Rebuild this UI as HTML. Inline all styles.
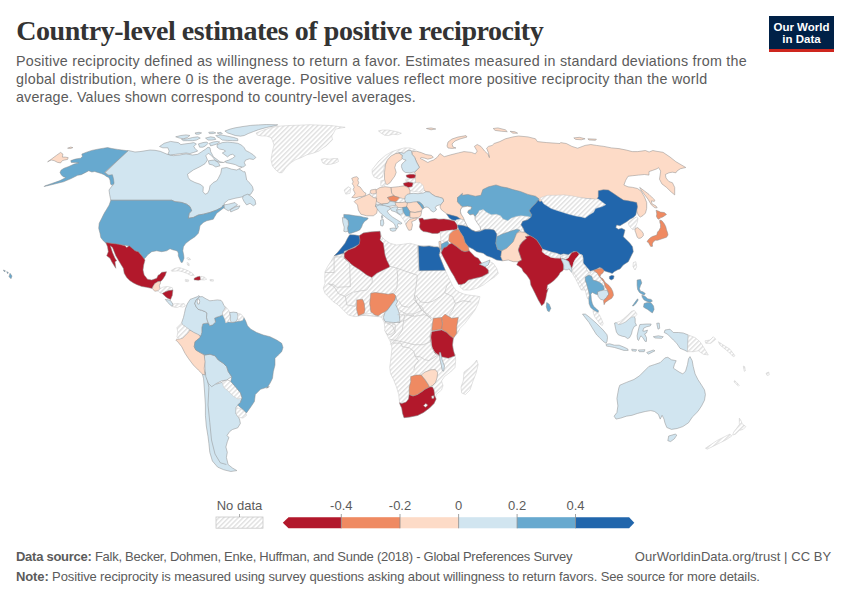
<!DOCTYPE html>
<html><head><meta charset="utf-8"><title>Country-level estimates of positive reciprocity</title>
<style>
html,body{margin:0;padding:0;background:#fff;}
body{width:850px;height:600px;position:relative;overflow:hidden;font-family:"Liberation Sans",Arial,sans-serif;}
.t{position:absolute;white-space:nowrap;}
#title{left:16.2px;top:17.45px;font-family:"Liberation Serif","Times New Roman",serif;font-size:28px;line-height:28px;font-weight:bold;color:#333;letter-spacing:-0.443px;}
.sub{left:16px;font-size:14.3px;line-height:14.3px;color:#5b5b5b;}
#s1{top:54.2px;letter-spacing:0.238px;}
#s2{top:72.1px;letter-spacing:0.271px;}
#s3{top:90.0px;letter-spacing:0.153px;}
#logo{position:absolute;left:769px;top:16px;width:65px;height:36px;background:#002147;}
#logo .bar{position:absolute;left:0;bottom:0;width:100%;height:2.8px;background:#ce261e;}
#logo .txt{position:absolute;left:0;top:4.5px;width:100%;text-align:center;color:#fff;font-weight:bold;font-size:11.5px;line-height:12px;letter-spacing:0px;}
#map{position:absolute;left:0;top:0;}
.ft{font-size:13px;line-height:13px;color:#5b5b5b;}
#src{left:16px;top:549.6px;letter-spacing:-0.268px;}
#note{left:16px;top:569.7px;letter-spacing:-0.123px;}
#lic{left:634.8px;top:549.6px;letter-spacing:0.058px;}
b{font-weight:bold;}
</style></head><body>
<svg id="map" width="850" height="600" viewBox="0 0 850 600">
<defs>
<pattern id="hatch" patternUnits="userSpaceOnUse" width="3.4" height="3.4" patternTransform="rotate(45)">
<rect width="3.4" height="3.4" fill="#ffffff"/>
<rect width="1.4" height="3.4" fill="#e0e0e0"/>
</pattern>
</defs>
<g id="land">
<polygon points="256.0,133.0 263.5,130.0 271.0,127.7 278.5,126.2 289.0,125.5 299.5,125.2 310.0,124.7 320.5,125.2 331.0,125.5 340.0,126.7 345.2,127.3 340.0,128.2 335.5,129.2 334.0,132.2 331.7,136.0 332.5,139.7 329.5,142.7 326.5,145.7 322.0,148.7 319.0,151.0 313.0,153.2 307.0,154.7 301.0,157.7 295.0,160.0 290.5,163.0 286.0,167.5 282.2,172.7 279.2,172.7 275.5,169.7 272.5,166.0 271.0,160.0 271.7,155.5 272.5,151.0 274.0,145.0 272.5,140.5 271.0,137.5 266.5,136.0 262.0,136.0 257.5,135.2" fill="url(#hatch)" stroke="#c8c8c8" stroke-width="0.5" stroke-linejoin="round"/>
<polygon points="321.2,159.2 325.0,158.5 329.5,159.2 334.0,158.5 337.7,158.5 338.5,161.5 335.5,163.0 331.0,164.2 326.5,164.5 322.7,163.0" fill="url(#hatch)" stroke="#c8c8c8" stroke-width="0.5" stroke-linejoin="round"/>
<polygon points="128.0,150.4 105.0,173.0 107.0,174.0 110.0,176.0 112.4,180.0 113.6,184.4 111.2,187.0 109.0,190.0 109.6,194.4 110.4,198.4 110.8,200.2 171.6,200.2 175.0,201.6 181.6,202.4 186.6,204.2 190.0,206.6 191.6,210.8 189.2,213.2 188.2,218.2 193.4,217.4 198.2,215.0 203.4,214.2 210.0,212.4 216.6,210.0 221.6,207.4 223.6,205.0 228.3,204.2 235.0,202.5 237.5,205.0 233.3,207.5 228.3,210.8 224.2,208.3 224.2,203.3 228.3,200.0 235.0,198.3 243.3,196.7 250.8,194.2 253.3,190.0 252.5,186.7 250.0,183.3 246.7,180.0 245.8,175.0 245.0,171.7 243.3,171.7 238.3,168.3 233.3,166.7 226.7,163.3 220.0,161.7 213.3,156.7 212.5,155.0 210.7,151.7 210.0,147.8 208.0,147.2 205.5,149.2 201.7,151.7 197.7,154.3 192.5,155.0 186.0,153.8 179.7,155.0 173.2,155.7 167.3,154.3 160.2,151.3 155.0,150.3 150.0,150.0 140.0,151.6 135.0,152.0" fill="#d1e5f0" stroke="#8c8c8c" stroke-width="0.5" stroke-linejoin="round"/>
<polygon points="243.3,195.8 247.5,194.2 251.7,196.7 255.0,200.0 255.8,204.2 253.3,205.8 250.0,203.3 246.7,205.0 244.2,201.7 242.5,198.3" fill="#d1e5f0" stroke="#8c8c8c" stroke-width="0.5" stroke-linejoin="round"/>
<polygon points="230.0,210.0 235.0,207.0 240.0,205.8 238.3,208.7 233.3,210.8 230.8,212.0" fill="#d1e5f0" stroke="#8c8c8c" stroke-width="0.5" stroke-linejoin="round"/>
<polygon points="187.5,174.2 193.3,170.0 200.0,166.7 205.0,163.7 207.5,160.0 205.8,155.8 208.3,153.3 211.7,155.8 215.8,160.8 220.0,162.5 223.3,162.5 228.3,160.8 233.3,161.7 238.3,165.0 241.7,167.5 236.7,170.0 231.7,169.2 226.7,167.5 221.7,168.3 220.8,173.3 218.3,178.3 216.7,180.8 213.3,182.5 210.0,185.8 209.2,190.0 207.5,193.3 205.0,194.2 203.0,191.7 203.3,186.7 200.0,184.2 195.0,182.5 190.0,180.0 188.3,177.5" fill="#ffffff" stroke="#8c8c8c" stroke-width="0.5" stroke-linejoin="round"/>
<polygon points="208.3,160.8 214.2,160.0 218.3,162.5 220.0,165.8 215.8,167.0 212.5,165.0 209.2,164.2" fill="#d1e5f0" stroke="#8c8c8c" stroke-width="0.5" stroke-linejoin="round"/>
<polygon points="159.5,146.5 164.1,143.3 170.5,141.4 178.3,142.6 180.9,144.6 184.8,143.9 189.9,143.3 193.8,142.6 196.4,143.9 193.8,146.5 195.1,148.5 197.7,151.1 193.8,152.4 189.9,153.6 186.1,153.0 180.9,153.6 175.7,154.3 170.5,154.9 167.9,154.3 169.2,151.1 167.9,147.8 162.8,147.8" fill="#d1e5f0" stroke="#8c8c8c" stroke-width="0.5" stroke-linejoin="round"/>
<polygon points="198.4,143.9 202.9,142.6 206.8,142.0 208.1,143.3 205.5,145.9 202.9,147.2 199.6,147.2" fill="#d1e5f0" stroke="#8c8c8c" stroke-width="0.5" stroke-linejoin="round"/>
<polygon points="209.4,143.3 213.2,142.0 217.1,141.4 219.7,142.0 217.1,143.9 213.2,145.2 210.6,145.9" fill="#d1e5f0" stroke="#8c8c8c" stroke-width="0.5" stroke-linejoin="round"/>
<polygon points="175.7,136.8 180.9,135.5 186.1,134.9 189.9,135.5 187.4,137.5 183.5,138.8 179.6,138.1" fill="#d1e5f0" stroke="#8c8c8c" stroke-width="0.5" stroke-linejoin="round"/>
<polygon points="181.5,139.4 187.4,138.8 192.5,137.5 197.7,136.8 200.3,138.1 196.4,140.1 192.5,140.7 187.4,140.7 183.5,140.7" fill="#d1e5f0" stroke="#8c8c8c" stroke-width="0.5" stroke-linejoin="round"/>
<polygon points="195.1,132.9 199.0,132.3 201.6,132.9 199.0,134.2 195.8,134.2" fill="#d1e5f0" stroke="#8c8c8c" stroke-width="0.5" stroke-linejoin="round"/>
<polygon points="205.5,138.1 210.6,136.8 214.5,137.5 215.8,139.4 211.9,140.1 208.1,140.1" fill="#d1e5f0" stroke="#8c8c8c" stroke-width="0.5" stroke-linejoin="round"/>
<polygon points="208.7,132.3 213.2,131.9 215.8,132.9 213.2,133.6 209.4,133.6" fill="#d1e5f0" stroke="#8c8c8c" stroke-width="0.5" stroke-linejoin="round"/>
<polygon points="217.1,132.9 221.0,132.3 222.3,133.6 219.7,134.2" fill="#d1e5f0" stroke="#8c8c8c" stroke-width="0.5" stroke-linejoin="round"/>
<polygon points="215.8,135.5 221.0,134.9 227.5,136.2 233.9,137.5 237.8,138.8 237.8,140.7 232.6,140.7 227.5,140.4 222.3,140.1 219.7,138.1 217.1,136.8" fill="#d1e5f0" stroke="#8c8c8c" stroke-width="0.5" stroke-linejoin="round"/>
<polygon points="224.9,131.0 230.1,129.1 235.2,127.8 243.0,126.5 250.8,125.4 258.5,124.9 266.3,124.5 277.7,124.8 275.4,125.7 266.3,127.5 258.5,129.7 253.4,131.6 248.2,133.6 244.3,135.5 240.4,136.2 235.2,135.5 231.4,134.2 227.5,132.9" fill="#d1e5f0" stroke="#8c8c8c" stroke-width="0.5" stroke-linejoin="round"/>
<polygon points="217.1,144.6 222.3,142.6 227.5,142.0 232.6,142.6 237.8,143.3 241.7,145.2 244.3,147.8 245.6,150.4 249.5,152.4 253.4,154.9 255.9,157.5 253.4,159.5 249.5,158.8 245.6,160.1 244.3,162.7 245.6,165.3 243.0,167.2 239.1,166.6 235.2,164.6 230.1,163.4 226.2,162.7 224.9,161.4 228.8,160.1 232.6,158.2 235.2,156.2 232.6,154.3 230.1,154.9 227.5,156.9 224.9,154.9 222.3,153.0 225.5,151.1 223.6,149.8 219.7,149.1 217.1,147.2" fill="#d1e5f0" stroke="#8c8c8c" stroke-width="0.5" stroke-linejoin="round"/>
<polygon points="128.0,150.8 104.5,172.4 105.9,173.5 108.2,175.3 112.4,174.7 113.5,178.8 114.1,183.5 111.8,185.3 110.6,184.1 110.0,180.0 108.8,177.6 106.5,176.5 104.1,174.7 101.2,173.5 97.6,172.4 94.7,171.5 91.8,172.0 88.8,170.8 84.7,172.9 81.2,174.7 77.6,175.3 74.1,177.1 70.6,178.8 63.5,181.8 56.5,183.5 49.4,185.3 44.1,186.5 44.7,185.9 51.8,183.5 60.0,180.6 65.9,177.6 62.9,176.5 61.2,174.7 60.0,172.4 61.2,170.0 64.1,168.2 68.8,166.5 74.1,164.1 78.8,162.9 75.3,162.6 71.2,162.4 70.8,160.6 75.3,159.1 80.6,158.2 82.4,156.5 81.8,154.1 85.9,152.4 91.8,150.4 97.6,149.2 103.5,148.2 107.6,147.6 111.8,148.5 117.6,149.4" fill="#67a9cf" stroke="#8c8c8c" stroke-width="0.5" stroke-linejoin="round"/>
<polygon points="47.6,161.8 51.8,158.8 56.5,155.3 60.6,152.4 62.9,154.1 62.4,157.1 65.3,157.1 68.2,157.6 67.6,159.4 64.7,160.0 62.4,160.6 60.6,162.9 57.6,162.4 54.1,160.6 51.2,160.0" fill="#fddbc7" stroke="#8c8c8c" stroke-width="0.5" stroke-linejoin="round"/>
<polygon points="67.6,148.2 70.6,147.1 72.9,147.6 70.6,148.5" fill="#fddbc7" stroke="#8c8c8c" stroke-width="0.5" stroke-linejoin="round"/>
<polygon points="110.8,200.3 171.7,200.3 175.0,201.7 181.7,202.5 186.7,204.2 190.0,206.7 191.7,210.8 189.2,213.3 188.3,218.3 193.3,217.5 198.3,215.0 203.3,214.2 210.0,212.5 216.7,210.0 221.7,207.5 223.3,205.0 224.2,207.5 220.0,210.8 216.7,213.3 214.2,217.5 213.3,219.2 210.0,220.0 206.7,220.8 203.3,222.5 200.0,225.8 199.2,230.0 198.3,233.3 195.0,236.7 190.0,240.0 185.8,243.3 183.7,246.3 183.3,247.5 182.8,250.8 183.7,255.0 184.0,258.3 182.5,262.2 181.2,262.5 179.7,259.2 178.3,255.8 178.3,253.3 177.5,251.2 175.0,250.3 173.3,250.0 170.0,248.7 166.7,250.8 161.7,251.7 156.7,250.8 151.7,251.7 147.5,255.0 145.0,258.3 143.3,259.2 140.0,253.3 136.7,250.8 134.2,251.7 130.8,248.3 128.3,245.8 123.3,245.0 116.7,244.2 111.7,243.3 105.8,243.0 103.3,240.8 100.8,237.5 100.0,233.3 98.7,228.3 99.2,223.3 101.7,218.3 104.2,213.3 106.7,209.2 109.2,205.0" fill="#67a9cf" stroke="#8c8c8c" stroke-width="0.5" stroke-linejoin="round"/>
<polygon points="105.8,242.5 110.8,243.3 118.3,244.2 125.0,245.8 126.7,247.5 129.2,245.8 133.3,249.2 135.0,250.8 138.3,251.7 141.7,255.8 145.0,260.0 143.7,265.0 143.0,270.0 144.2,275.0 147.5,279.2 151.7,280.0 156.7,278.3 158.3,275.0 159.3,274.7 161.8,272.3 166.5,271.7 165.3,275.3 163.5,278.2 161.8,280.5 160.0,281.8 157.7,281.8 156.5,283.0 154.7,284.2 153.0,286.5 152.3,288.5 150.0,288.0 146.5,287.3 141.8,286.5 137.0,284.7 133.5,283.0 130.0,280.7 126.7,277.5 124.2,273.3 123.3,268.3 120.8,264.2 118.3,260.0 115.8,255.8 114.2,251.7 112.5,247.5 110.3,245.8 112.5,252.5 115.0,258.3 116.7,260.8 115.0,261.7 115.8,268.3 114.2,265.8 111.7,261.7 110.0,258.3 106.7,255.8 108.3,251.7 107.5,246.7" fill="#b2182b" stroke="#8c8c8c" stroke-width="0.5" stroke-linejoin="round"/>
<polygon points="152.3,288.5 154.7,291.2 158.2,290.8 160.0,288.8 159.4,285.3 160.6,283.0 160.0,281.2 157.7,281.8 154.7,283.5 153.0,286.5" fill="#fddbc7" stroke="#8c8c8c" stroke-width="0.5" stroke-linejoin="round"/>
<polygon points="158.2,290.8 160.0,288.8 162.9,287.1 167.6,286.5 172.3,287.7 172.9,290.0 168.8,290.6 165.3,291.8 162.9,293.5 160.0,292.9" fill="url(#hatch)" stroke="#c8c8c8" stroke-width="0.5" stroke-linejoin="round"/>
<polygon points="162.3,293.5 165.3,291.8 168.8,290.6 172.9,290.0 172.3,295.3 170.6,299.4 167.6,298.2 165.3,296.5" fill="#b2182b" stroke="#8c8c8c" stroke-width="0.5" stroke-linejoin="round"/>
<polygon points="165.3,299.4 168.8,300.0 170.6,300.6 172.9,304.1 172.3,306.5 170.0,304.7 167.6,302.3" fill="#d1e5f0" stroke="#8c8c8c" stroke-width="0.5" stroke-linejoin="round"/>
<polygon points="172.9,304.1 177.1,303.5 180.6,304.1 184.1,303.5 185.3,305.9 182.9,307.1 179.4,306.5 177.1,307.6 173.5,307.1" fill="url(#hatch)" stroke="#c8c8c8" stroke-width="0.5" stroke-linejoin="round"/>
<polygon points="185.3,279.4 188.8,280.0 188.2,281.8 185.3,281.2" fill="url(#hatch)" stroke="#c8c8c8" stroke-width="0.5" stroke-linejoin="round"/>
<polygon points="210.0,279.4 213.5,279.8 213.3,281.2 210.2,280.9" fill="url(#hatch)" stroke="#c8c8c8" stroke-width="0.5" stroke-linejoin="round"/>
<polygon points="171.2,270.4 175.0,268.3 179.2,267.5 183.3,268.8 188.3,270.8 192.5,273.3 194.2,275.4 190.8,275.4 186.7,273.3 182.5,271.7 178.3,270.8 174.2,271.2 171.7,271.2" fill="url(#hatch)" stroke="#c8c8c8" stroke-width="0.5" stroke-linejoin="round"/>
<polygon points="186.7,258.0 188.5,257.5 190.8,259.5 188.5,260.0" fill="url(#hatch)" stroke="#c8c8c8" stroke-width="0.5" stroke-linejoin="round"/>
<polygon points="187.0,262.5 189.0,263.5 189.2,265.8 187.5,265.0" fill="url(#hatch)" stroke="#c8c8c8" stroke-width="0.5" stroke-linejoin="round"/>
<polygon points="194.2,278.3 197.5,276.7 200.0,276.3 200.8,279.7 198.3,280.3 195.8,280.0 194.2,280.0" fill="#b2182b" stroke="#8c8c8c" stroke-width="0.5" stroke-linejoin="round"/>
<polygon points="200.8,276.3 204.2,277.0 206.7,279.2 204.2,280.0 200.8,279.7" fill="url(#hatch)" stroke="#c8c8c8" stroke-width="0.5" stroke-linejoin="round"/>
<polygon points="350.0,235.8 353.3,235.0 359.2,235.8 363.3,233.0 370.0,232.0 380.0,231.3 381.7,236.7 385.0,240.0 390.0,243.3 396.7,245.0 403.3,244.2 410.0,243.3 416.7,245.0 419.2,245.8 430.0,245.8 438.3,246.7 440.8,248.0 445.0,249.2 446.7,248.3 440.2,257.8 442.0,262.5 443.8,267.0 445.3,270.3 446.7,273.5 448.5,277.2 450.3,280.8 453.0,286.3 455.8,290.0 460.0,292.5 464.2,294.2 468.3,295.0 475.0,295.8 480.0,296.7 478.3,303.3 475.0,310.0 470.0,316.7 465.0,323.3 460.0,328.3 457.5,333.3 453.3,338.3 452.5,345.0 453.3,350.0 454.2,356.7 455.0,354.0 455.7,360.0 455.0,367.5 450.5,372.0 444.5,376.5 441.5,381.0 443.0,385.5 441.5,390.0 436.2,394.5 435.5,399.0 434.0,403.5 429.5,408.0 423.5,412.5 417.5,415.5 410.0,417.0 404.0,417.7 403.2,414.0 401.7,408.0 399.5,402.0 398.7,394.5 396.5,387.0 393.5,379.5 390.5,373.5 389.7,367.5 390.5,361.5 391.2,355.5 392.0,348.0 390.5,342.0 387.5,336.0 384.5,330.0 385.0,330.0 384.2,322.5 381.7,317.5 376.7,315.8 370.0,313.3 360.0,315.0 378.3,316.7 373.3,315.8 366.7,315.0 360.0,315.8 355.0,316.7 348.3,315.0 343.3,310.0 338.3,305.0 333.3,301.7 328.3,296.7 325.0,293.3 323.3,288.3 325.0,283.3 324.7,278.3 325.0,271.7 327.5,266.7 330.8,261.7 334.2,255.8 338.3,252.5 342.5,246.7 346.7,241.7" fill="url(#hatch)" stroke="#c8c8c8" stroke-width="0.5" stroke-linejoin="round"/>
<polygon points="464.0,372.0 470.0,367.5 474.5,363.0 476.7,360.0 478.2,364.5 476.0,373.5 473.0,381.0 470.0,390.0 465.5,394.5 461.7,393.0 461.0,387.0 463.2,381.0" fill="url(#hatch)" stroke="#c8c8c8" stroke-width="0.5" stroke-linejoin="round"/>
<polygon points="349.7,234.7 355.0,235.0 359.2,235.8 360.3,240.8 359.2,244.2 353.3,247.5 348.3,249.7 344.2,251.3 343.7,253.3 334.2,255.8 337.5,252.5 341.7,247.5 345.0,243.3 347.5,238.3" fill="#2166ac" stroke="#8c8c8c" stroke-width="0.5" stroke-linejoin="round"/>
<polygon points="359.2,235.8 363.3,233.0 370.0,232.0 380.0,231.3 380.8,236.7 380.0,240.0 383.3,243.3 384.2,249.2 385.0,255.0 386.7,260.0 390.0,266.7 383.3,270.0 376.7,273.3 371.7,277.5 366.7,275.0 360.0,270.0 353.3,265.8 348.3,261.7 344.2,258.3 344.2,253.3 348.3,250.0 355.0,247.5 359.2,244.2 360.0,240.0" fill="#b2182b" stroke="#8c8c8c" stroke-width="0.5" stroke-linejoin="round"/>
<polygon points="418.4,245.8 423.7,246.5 429.2,246.0 433.8,246.9 437.5,247.1 439.5,247.8 440.2,251.0 439.1,254.7 440.2,257.9 442.1,262.5 443.9,267.1 445.3,270.3 419.2,270.7" fill="#2166ac" stroke="#8c8c8c" stroke-width="0.5" stroke-linejoin="round"/>
<polygon points="438.9,241.6 440.7,241.0 441.3,245.1 440.7,249.7 439.5,247.4 439.1,244.2" fill="#fddbc7" stroke="#8c8c8c" stroke-width="0.5" stroke-linejoin="round"/>
<polygon points="356.7,300.0 362.5,299.2 364.2,303.3 365.0,310.0 364.2,313.3 358.3,315.8 356.7,310.0" fill="#ef8a62" stroke="#8c8c8c" stroke-width="0.5" stroke-linejoin="round"/>
<polygon points="370.8,293.3 375.0,292.5 381.7,293.3 388.3,294.2 393.3,293.3 395.8,295.8 395.0,300.0 392.5,303.3 390.0,306.7 387.5,310.0 385.0,311.7 381.7,313.3 378.3,315.8 375.0,315.0 370.8,311.7 369.7,303.3" fill="#ef8a62" stroke="#8c8c8c" stroke-width="0.5" stroke-linejoin="round"/>
<polygon points="395.8,296.7 397.5,301.7 395.8,305.0 397.5,308.3 399.2,313.3 400.0,322.5 393.3,322.5 385.0,321.7 383.3,317.5 385.0,312.5 387.5,310.0 390.0,306.7 392.5,303.3 395.0,300.0" fill="#d1e5f0" stroke="#8c8c8c" stroke-width="0.5" stroke-linejoin="round"/>
<polygon points="433.3,318.3 441.7,317.5 442.5,325.0 441.7,329.2 436.7,330.0 431.7,330.8 432.5,323.3" fill="#ef8a62" stroke="#8c8c8c" stroke-width="0.5" stroke-linejoin="round"/>
<polygon points="441.7,317.5 445.0,314.2 451.7,318.3 458.3,317.5 456.7,326.7 456.7,333.3 453.3,338.3 450.0,335.8 446.7,332.5 441.7,329.2 442.5,323.3" fill="#ef8a62" stroke="#8c8c8c" stroke-width="0.5" stroke-linejoin="round"/>
<polygon points="431.7,331.7 436.7,330.8 441.7,330.0 446.7,332.5 450.0,335.8 453.3,338.3 452.5,345.0 453.3,350.0 455.0,355.8 448.3,358.3 441.7,356.7 435.0,353.3 432.5,348.3 430.8,341.7 430.0,336.7" fill="#b2182b" stroke="#8c8c8c" stroke-width="0.5" stroke-linejoin="round"/>
<polygon points="439.2,352.5 440.7,352.5 442.2,360.0 444.5,366.0 443.7,371.2 442.2,370.5 441.2,364.5 440.0,360.0" fill="#d1e5f0" stroke="#8c8c8c" stroke-width="0.5" stroke-linejoin="round"/>
<polygon points="399.5,402.7 401.7,403.5 406.2,402.0 408.5,399.0 409.2,394.5 413.0,396.0 417.5,394.5 422.0,391.5 425.0,389.2 429.5,387.0 432.5,387.0 434.0,390.0 434.7,396.0 436.2,399.0 434.0,403.5 429.5,408.0 423.5,412.5 417.5,415.5 410.0,417.0 404.0,417.7 402.5,413.2 401.7,408.0 400.2,405.0" fill="#b2182b" stroke="#8c8c8c" stroke-width="0.5" stroke-linejoin="round"/>
<polygon points="423.5,405.7 425.7,403.5 427.7,405.0 425.7,407.2" fill="#ffffff" stroke="#8c8c8c" stroke-width="0.5" stroke-linejoin="round"/>
<polygon points="431.7,396.0 433.7,395.7 434.0,398.2 431.9,398.4" fill="#ffffff" stroke="#8c8c8c" stroke-width="0.5" stroke-linejoin="round"/>
<polygon points="410.7,376.5 416.0,375.0 421.2,375.0 425.0,379.5 428.0,384.0 429.5,387.0 425.0,389.2 422.0,391.5 417.5,394.5 413.0,396.0 409.2,394.5 409.2,387.0 410.7,381.7" fill="#ef8a62" stroke="#8c8c8c" stroke-width="0.5" stroke-linejoin="round"/>
<polygon points="421.2,375.0 425.0,372.0 431.0,369.7 435.5,369.7 437.7,372.7 437.0,378.0 435.5,382.5 432.5,385.5 429.5,387.0 428.0,384.0 425.0,379.5" fill="#fddbc7" stroke="#8c8c8c" stroke-width="0.5" stroke-linejoin="round"/>
<polygon points="412.2,151.6 416.5,151.2 421.2,152.6 425.9,154.5 431.5,155.4 433.4,157.3 431.5,158.2 427.8,159.2 424.9,158.2 421.2,157.5 420.2,158.4 424.0,160.3 427.8,162.5 430.6,161.1 433.4,160.1 437.2,157.3 440.0,153.5 440.5,153.9 444.2,156.7 450.8,154.8 458.4,152.9 464.0,151.6 471.5,152.4 475.3,153.9 477.2,151.1 474.4,146.4 477.2,144.5 480.9,146.4 484.7,151.1 488.5,154.8 489.4,157.6 488.5,152.9 486.6,148.2 488.5,146.4 492.2,145.4 494.1,143.5 499.8,141.6 505.4,138.8 512.9,136.9 518.6,136.0 528.0,136.9 535.5,138.8 537.4,141.6 546.8,142.6 560.0,143.5 560.6,142.6 566.3,143.5 571.9,146.4 577.6,148.2 585.1,145.4 590.8,144.5 596.4,145.4 603.9,146.4 611.5,147.9 619.0,148.6 626.5,150.1 632.2,151.6 637.8,151.6 645.4,150.5 649.1,152.0 652.9,150.5 656.0,151.2 663.0,152.3 670.0,157.0 675.9,161.7 685.8,167.5 680.5,168.7 677.0,171.0 675.9,172.8 672.4,172.2 668.9,172.8 665.4,174.5 666.0,178.0 668.9,181.5 672.4,182.7 674.7,187.4 674.7,194.9 671.2,192.0 666.5,187.4 661.9,183.9 659.5,179.2 660.7,171.0 658.4,167.5 657.2,168.7 652.5,170.4 649.0,171.6 649.0,175.1 644.4,174.5 638.5,175.1 632.7,175.7 628.0,176.3 625.7,180.3 623.9,185.0 628.0,186.8 632.7,187.4 637.4,188.5 640.9,190.9 644.4,196.7 646.7,202.5 646.7,208.4 645.5,213.0 643.2,215.4 640.3,217.1 638.5,215.4 637.4,213.0 635.0,204.9 629.2,202.5 630.3,203.8 624.6,200.9 619.0,198.1 611.5,194.9 603.9,193.8 599.2,195.7 600.2,200.0 598.3,203.8 592.6,203.8 583.2,202.8 573.8,200.9 564.4,199.6 555.0,200.0 550.6,200.0 543.1,201.9 535.5,200.0 528.0,198.1 520.5,195.3 512.9,193.4 507.3,191.5 501.6,190.6 496.0,188.7 488.5,190.6 482.8,193.4 480.9,199.1 475.3,200.0 467.8,198.1 457.5,197.5 457.5,201.7 460.0,204.6 462.5,206.7 460.8,209.2 460.4,211.2 461.2,214.2 463.3,216.7 465.0,219.2 463.3,220.0 460.0,218.8 456.7,217.5 452.5,215.8 447.5,214.2 450.0,216.0 447.3,214.3 444.7,212.3 441.3,209.7 440.0,207.0 440.7,204.7 442.0,203.0 443.7,201.0 442.7,198.3 439.3,197.3 435.3,196.3 432.0,194.3 429.3,192.0 426.0,191.7 421.6,187.8 416.0,184.9 415.1,180.8 414.6,178.9 415.5,175.2 414.6,172.4 417.4,169.5 419.3,167.2 416.5,162.0 414.6,157.3 412.2,154.5 411.8,151.8" fill="#fddbc7" stroke="#8c8c8c" stroke-width="0.5" stroke-linejoin="round"/>
<polygon points="639.7,187.4 644.4,190.9 649.0,194.4 652.5,197.9 654.9,200.2 654.3,201.4 651.4,200.8 651.9,203.7 656.0,206.0 657.2,207.8 654.9,207.8 651.4,204.9 647.9,199.0 644.4,194.4 640.9,189.7" fill="#fddbc7" stroke="#8c8c8c" stroke-width="0.5" stroke-linejoin="round"/>
<polygon points="447.0,146.0 448.0,142.0 452.0,139.0 458.0,137.0 466.0,135.6 467.0,137.0 460.0,139.0 455.0,141.0 452.0,144.0 453.0,147.0 456.0,148.0 452.0,148.4 448.0,148.0" fill="#fddbc7" stroke="#8c8c8c" stroke-width="0.5" stroke-linejoin="round"/>
<polygon points="426.4,128.5 431.1,127.9 435.8,129.0 431.1,129.8" fill="#fddbc7" stroke="#8c8c8c" stroke-width="0.5" stroke-linejoin="round"/>
<polygon points="493.2,128.5 497.9,127.9 505.4,129.8 507.3,131.7 501.6,131.3 495.1,130.4" fill="#fddbc7" stroke="#8c8c8c" stroke-width="0.5" stroke-linejoin="round"/>
<polygon points="510.1,131.3 514.8,131.7 517.6,133.2 512.9,133.2" fill="#fddbc7" stroke="#8c8c8c" stroke-width="0.5" stroke-linejoin="round"/>
<polygon points="573.8,137.9 579.5,137.3 585.1,138.8 581.4,139.8 575.7,139.4" fill="#fddbc7" stroke="#8c8c8c" stroke-width="0.5" stroke-linejoin="round"/>
<polygon points="587.9,138.8 596.4,139.2 595.5,140.3 588.9,140.0" fill="#fddbc7" stroke="#8c8c8c" stroke-width="0.5" stroke-linejoin="round"/>
<polygon points="462.1,195.3 467.8,194.4 475.3,196.2 480.9,195.3 482.8,189.6 488.5,186.8 496.0,184.9 501.6,186.8 507.3,187.8 512.9,189.6 520.5,191.5 528.0,194.4 535.5,196.2 539.3,199.1 535.8,203.3 533.3,205.8 531.0,208.2 529.3,210.7 531.8,214.8 531.0,218.0 527.7,217.2 521.0,216.3 516.2,217.2 511.2,218.8 507.8,221.3 503.0,219.7 500.5,216.3 496.3,215.0 491.3,215.5 486.5,213.0 483.2,210.2 479.0,211.3 475.0,216.7 473.3,214.2 470.0,215.0 467.5,212.5 468.3,210.4 470.8,209.2 471.7,207.1 467.5,206.2 462.5,206.7 460.0,204.6 457.5,201.7 457.5,197.5 462.5,193.3" fill="#67a9cf" stroke="#8c8c8c" stroke-width="0.5" stroke-linejoin="round"/>
<polygon points="479.0,210.7 483.2,209.5 486.5,212.3 491.3,214.8 496.3,214.3 500.5,215.7 503.0,219.0 507.8,220.7 511.2,218.2 516.2,216.5 521.0,215.7 527.7,216.5 531.0,217.3 527.7,219.8 522.7,221.3 521.0,224.7 523.5,228.8 524.7,232.0 521.7,232.3 519.7,231.7 516.7,230.8 511.7,231.7 506.7,233.7 501.7,235.3 497.5,237.5 495.5,233.7 490.7,231.7 484.8,229.2 479.8,230.5 475.0,231.3 473.3,227.2 475.0,221.3 474.2,218.2 479.0,214.8" fill="url(#hatch)" stroke="#c8c8c8" stroke-width="0.5" stroke-linejoin="round"/>
<polygon points="538.3,200.0 535.8,203.3 533.3,205.8 531.0,208.2 529.3,210.7 531.8,214.8 531.0,217.3 527.7,219.7 522.7,221.3 521.0,224.7 523.5,228.8 524.3,231.3 525.0,232.5 530.0,235.8 533.3,237.5 536.7,240.0 540.0,245.0 542.5,249.2 550.0,251.7 555.5,252.9 560.1,254.7 563.7,253.8 568.3,254.7 571.1,252.9 573.8,251.5 577.5,252.0 580.2,254.2 582.1,254.7 583.0,257.0 583.0,262.5 584.8,265.2 588.5,268.9 590.3,271.2 593.1,270.3 595.8,269.4 599.5,267.5 601.3,268.0 604.1,270.7 606.8,271.7 609.6,272.6 612.3,273.5 614.1,271.7 617.8,269.8 620.0,268.9 623.3,265.0 628.3,261.7 630.8,256.7 633.3,251.7 632.5,246.7 630.0,243.3 626.7,240.0 623.3,236.7 624.2,233.3 625.0,230.0 621.7,228.3 618.3,229.2 615.8,227.5 616.7,225.0 620.0,225.8 623.3,223.7 626.7,221.7 630.0,219.2 633.3,217.5 635.8,215.0 636.7,210.8 637.5,206.7 636.7,202.5 633.3,201.7 628.3,200.8 623.3,200.0 618.3,196.7 613.3,193.3 608.3,190.0 603.3,189.7 598.3,190.8 598.3,196.7 596.7,199.7 590.0,198.7 573.3,197.5 556.7,196.7 545.0,199.2 540.0,201.7" fill="#2166ac" stroke="#8c8c8c" stroke-width="0.5" stroke-linejoin="round"/>
<polygon points="539.9,197.9 547.5,195.3 555.0,195.3 564.4,194.9 573.8,196.2 583.2,198.1 592.6,199.1 598.3,199.1 602.1,201.9 605.8,204.7 602.1,206.6 595.5,208.5 593.6,212.2 588.9,215.1 585.1,217.9 581.4,216.9 575.7,216.0 568.2,214.1 562.5,212.2 556.9,210.4 551.2,208.5 543.7,203.8" fill="url(#hatch)" stroke="#c8c8c8" stroke-width="0.5" stroke-linejoin="round"/>
<polygon points="628.3,223.0 630.5,220.8 633.5,218.5 636.5,217.0 638.0,218.1 637.3,222.3 635.8,226.0 635.0,229.0 632.8,229.8 630.5,227.5 629.0,225.3" fill="url(#hatch)" stroke="#c8c8c8" stroke-width="0.5" stroke-linejoin="round"/>
<polygon points="635.0,229.0 637.3,227.5 639.5,229.0 641.8,231.3 643.3,233.5 643.3,235.8 641.0,238.0 638.8,238.4 637.3,237.3 636.5,235.0 635.8,232.8 635.0,230.9" fill="#fddbc7" stroke="#8c8c8c" stroke-width="0.5" stroke-linejoin="round"/>
<polygon points="656.0,210.3 658.3,211.0 660.5,212.1 664.3,212.5 666.5,214.4 665.0,215.5 662.8,217.0 660.5,217.8 659.0,219.3 657.5,218.5 656.4,216.3 656.8,214.0 656.4,211.8" fill="#ef8a62" stroke="#8c8c8c" stroke-width="0.5" stroke-linejoin="round"/>
<polygon points="659.8,220.0 662.0,220.8 664.3,223.8 665.8,226.8 666.5,229.8 667.6,232.8 668.0,235.0 666.5,237.3 664.3,238.0 662.0,238.8 659.8,239.5 657.5,240.3 655.3,240.3 653.8,241.4 653.0,242.5 652.3,244.0 652.6,246.3 650.8,246.6 649.6,244.8 648.5,242.5 647.0,241.8 648.1,239.9 650.0,238.0 652.3,236.5 654.5,235.8 656.8,235.0 657.5,232.0 659.0,230.5 660.5,227.5 660.5,224.5 659.8,222.3" fill="#ef8a62" stroke="#8c8c8c" stroke-width="0.5" stroke-linejoin="round"/>
<polygon points="633.3,262.5 635.8,261.7 636.7,266.7 635.0,270.0 633.0,266.7" fill="url(#hatch)" stroke="#c8c8c8" stroke-width="0.5" stroke-linejoin="round"/>
<polygon points="378.4,130.9 382.6,130.0 388.2,130.0 392.9,130.9 397.6,131.9 401.4,133.3 397.6,134.7 392.9,134.2 388.2,135.6 384.5,135.2 380.7,132.8" fill="url(#hatch)" stroke="#c8c8c8" stroke-width="0.5" stroke-linejoin="round"/>
<polygon points="372.2,169.5 378.8,161.1 385.4,155.4 392.0,151.6 397.6,149.8 404.2,147.9 409.9,147.9 415.5,149.8 412.7,150.9 408.0,150.7 403.3,152.6 399.5,153.1 395.8,153.5 392.0,156.4 388.2,159.2 385.4,163.9 384.0,167.6 383.5,172.4 382.6,177.1 378.8,178.9 374.1,177.1 372.2,173.3" fill="url(#hatch)" stroke="#c8c8c8" stroke-width="0.5" stroke-linejoin="round"/>
<polygon points="391.1,155.9 395.8,153.5 399.5,153.1 402.4,155.4 402.8,158.2 400.5,160.1 397.6,162.0 395.8,163.9 394.8,167.6 396.2,172.4 394.8,176.1 392.0,179.9 390.1,182.7 387.3,184.6 385.4,183.6 384.5,178.9 384.5,172.4 385.4,164.8 387.3,160.1" fill="#fddbc7" stroke="#8c8c8c" stroke-width="0.5" stroke-linejoin="round"/>
<polygon points="398.6,152.6 401.4,152.6 403.8,153.5 406.6,151.2 408.9,150.2 411.3,150.7 412.2,154.5 414.6,157.3 416.5,162.0 419.3,167.2 417.4,169.5 414.6,171.9 409.9,172.8 405.2,172.4 402.8,170.5 401.4,166.7 401.9,163.9 404.2,162.0 406.1,160.1 403.8,159.6 401.9,158.2 402.4,155.4" fill="#d1e5f0" stroke="#8c8c8c" stroke-width="0.5" stroke-linejoin="round"/>
<polygon points="406.1,175.2 409.9,174.2 413.6,174.2 415.5,175.2 414.6,178.9 411.8,179.4 408.9,178.0 406.6,177.1" fill="#b2182b" stroke="#8c8c8c" stroke-width="0.5" stroke-linejoin="round"/>
<polygon points="405.8,179.2 415.0,178.0 415.8,181.7 413.3,183.0 408.3,182.0 405.8,181.3" fill="url(#hatch)" stroke="#c8c8c8" stroke-width="0.5" stroke-linejoin="round"/>
<polygon points="403.3,183.3 408.3,182.0 413.3,183.0 412.5,186.7 408.3,187.5 404.2,185.8" fill="#b2182b" stroke="#8c8c8c" stroke-width="0.5" stroke-linejoin="round"/>
<polygon points="413.3,183.0 420.0,182.5 423.3,185.8 424.2,190.0 421.7,192.5 416.7,191.7 410.0,190.8 409.2,187.5 412.5,186.7" fill="url(#hatch)" stroke="#c8c8c8" stroke-width="0.5" stroke-linejoin="round"/>
<polygon points="390.8,187.5 398.3,186.7 404.2,185.8 408.3,187.5 410.0,190.8 410.0,195.0 408.3,198.3 403.3,198.7 399.2,197.5 395.0,196.7 391.7,193.3" fill="#fddbc7" stroke="#8c8c8c" stroke-width="0.5" stroke-linejoin="round"/>
<polygon points="375.8,190.0 380.0,187.5 385.0,186.7 390.8,187.5 391.7,193.3 395.0,196.7 393.3,195.8 387.5,197.5 390.0,200.8 388.3,203.3 381.7,204.2 376.7,201.7 375.8,196.7" fill="#fddbc7" stroke="#8c8c8c" stroke-width="0.5" stroke-linejoin="round"/>
<polygon points="380.8,180.8 384.2,180.0 385.8,184.2 383.3,187.0 380.8,185.8" fill="url(#hatch)" stroke="#c8c8c8" stroke-width="0.5" stroke-linejoin="round"/>
<polygon points="370.8,190.0 375.8,189.2 376.3,193.3 372.5,194.2 370.0,192.5" fill="#fddbc7" stroke="#8c8c8c" stroke-width="0.5" stroke-linejoin="round"/>
<polygon points="369.2,193.3 372.5,194.2 376.3,193.7 376.7,196.7 373.3,197.5 370.0,195.8" fill="url(#hatch)" stroke="#c8c8c8" stroke-width="0.5" stroke-linejoin="round"/>
<polygon points="387.5,197.5 393.3,195.8 399.2,197.5 400.0,200.0 395.0,201.7 390.0,200.8" fill="#ef8a62" stroke="#8c8c8c" stroke-width="0.5" stroke-linejoin="round"/>
<polygon points="399.2,198.3 403.3,198.7 407.5,199.2 406.7,201.7 401.7,202.5 397.5,202.5 396.7,201.3" fill="url(#hatch)" stroke="#c8c8c8" stroke-width="0.5" stroke-linejoin="round"/>
<polygon points="381.7,204.2 388.3,203.3 390.0,201.3 395.0,202.0 397.5,203.0 395.8,205.3 390.0,206.3 384.2,206.7" fill="#d1e5f0" stroke="#8c8c8c" stroke-width="0.5" stroke-linejoin="round"/>
<polygon points="375.8,204.2 381.7,204.2 383.0,206.7 378.3,207.5 375.3,206.3" fill="#d1e5f0" stroke="#8c8c8c" stroke-width="0.5" stroke-linejoin="round"/>
<polygon points="355.8,200.0 363.3,196.7 369.2,194.2 373.3,197.5 376.7,198.3 376.3,202.0 375.8,204.2 375.3,206.3 377.5,208.3 376.7,213.3 373.3,215.8 366.7,215.8 360.8,214.2 358.3,210.0 357.5,205.0 354.2,201.7" fill="#fddbc7" stroke="#8c8c8c" stroke-width="0.5" stroke-linejoin="round"/>
<polygon points="356.7,176.7 358.4,178.1 357.9,180.5 358.8,182.8 357.4,185.6 360.2,187.1 362.6,190.4 364.0,192.2 365.9,193.2 365.4,195.5 362.6,196.5 358.8,196.9 355.1,197.9 351.8,197.4 354.1,195.1 355.1,193.2 354.1,191.3 353.2,189.4 354.1,187.5 353.6,185.6 352.2,183.8 353.2,181.9 351.7,178.3 354.1,177.2" fill="#fddbc7" stroke="#8c8c8c" stroke-width="0.5" stroke-linejoin="round"/>
<polygon points="344.2,190.0 348.3,186.7 350.8,188.3 350.0,193.3 345.8,194.2" fill="url(#hatch)" stroke="#c8c8c8" stroke-width="0.5" stroke-linejoin="round"/>
<polygon points="343.8,214.4 349.4,214.8 355.1,215.8 359.8,216.2 363.5,217.2 368.2,218.1 367.3,219.5 364.5,221.4 362.6,224.2 361.6,227.1 359.8,229.9 356.9,231.3 354.1,232.2 351.3,233.2 348.9,233.6 348.0,231.3 347.5,228.0 348.5,224.2 348.0,220.5 345.6,219.5 343.8,217.6" fill="#67a9cf" stroke="#8c8c8c" stroke-width="0.5" stroke-linejoin="round"/>
<polygon points="342.4,217.6 345.6,218.1 348.0,220.5 348.5,224.2 347.5,228.0 348.0,231.3 345.6,231.8 343.8,231.3 344.2,227.1 342.8,222.4" fill="#d1e5f0" stroke="#8c8c8c" stroke-width="0.5" stroke-linejoin="round"/>
<polygon points="375.8,206.4 379.5,204.9 384.2,205.4 388.9,206.8 390.8,208.2 388.9,210.1 387.1,211.1 388.9,213.9 392.7,217.2 396.5,219.5 400.2,221.9 402.1,223.3 400.2,224.2 398.4,223.3 397.4,225.2 398.4,227.1 396.5,228.9 395.5,227.1 394.6,224.2 392.7,222.4 389.9,220.5 387.1,218.6 384.2,216.2 381.4,213.9 379.5,212.0 378.1,210.1 376.7,208.2" fill="#d1e5f0" stroke="#8c8c8c" stroke-width="0.5" stroke-linejoin="round"/>
<polygon points="389.9,228.5 393.6,228.0 396.5,228.5 395.5,230.8 392.7,231.3 390.4,230.4" fill="#d1e5f0" stroke="#8c8c8c" stroke-width="0.5" stroke-linejoin="round"/>
<polygon points="380.7,220.0 383.3,219.5 383.8,223.3 382.8,226.1 380.7,225.6 380.5,222.8" fill="#d1e5f0" stroke="#8c8c8c" stroke-width="0.5" stroke-linejoin="round"/>
<polygon points="381.4,215.8 382.5,215.6 382.8,218.1 381.7,218.6" fill="#d1e5f0" stroke="#8c8c8c" stroke-width="0.5" stroke-linejoin="round"/>
<polygon points="390.0,208.3 395.0,206.7 398.3,207.5 396.7,210.0 401.7,213.3 403.3,215.8 400.0,215.0 395.0,211.7 391.7,210.8" fill="#d1e5f0" stroke="#8c8c8c" stroke-width="0.5" stroke-linejoin="round"/>
<polygon points="395.0,202.5 401.7,202.5 407.5,201.7 408.3,204.2 405.8,207.5 398.3,207.5 395.8,205.3" fill="#fddbc7" stroke="#8c8c8c" stroke-width="0.5" stroke-linejoin="round"/>
<polygon points="407.5,202.5 413.3,201.3 417.5,201.7 420.0,205.0 422.5,208.3 421.7,210.8 415.0,212.5 410.0,211.7 408.3,209.2 406.7,206.7" fill="#fddbc7" stroke="#8c8c8c" stroke-width="0.5" stroke-linejoin="round"/>
<polygon points="410.0,193.7 413.3,193.3 418.0,193.7 423.3,193.0 426.0,191.7 429.3,192.0 432.0,194.3 435.3,196.3 439.3,197.3 442.7,198.3 443.7,201.0 442.0,203.0 440.7,204.7 438.0,205.3 436.0,206.3 435.0,208.0 436.7,209.0 435.3,211.0 433.3,212.0 431.3,211.0 430.0,209.3 429.0,208.0 427.0,207.0 425.0,207.3 424.0,208.0 422.7,205.0 420.0,202.3 417.3,201.7 413.3,202.0 410.0,202.7 406.0,202.7 404.7,199.7 405.3,196.3 407.3,194.3" fill="#d1e5f0" stroke="#8c8c8c" stroke-width="0.5" stroke-linejoin="round"/>
<polygon points="417.3,201.7 420.0,202.3 422.7,205.0 424.0,208.0 422.7,209.0 421.3,207.0 420.0,205.0 418.0,203.3" fill="#67a9cf" stroke="#8c8c8c" stroke-width="0.5" stroke-linejoin="round"/>
<polygon points="402.5,207.5 406.7,206.7 408.3,209.2 410.0,211.7 409.7,216.7 405.8,216.3 403.3,211.7" fill="#67a9cf" stroke="#8c8c8c" stroke-width="0.5" stroke-linejoin="round"/>
<polygon points="396.7,210.0 402.5,208.7 403.3,213.3 400.3,214.7 397.0,212.0" fill="#d1e5f0" stroke="#8c8c8c" stroke-width="0.5" stroke-linejoin="round"/>
<polygon points="400.3,214.7 403.3,213.3 405.8,216.3 409.7,216.7 410.0,219.2 407.5,221.7 405.8,224.2 404.2,220.8 401.7,217.5" fill="url(#hatch)" stroke="#c8c8c8" stroke-width="0.5" stroke-linejoin="round"/>
<polygon points="410.0,212.0 415.0,212.5 421.7,211.3 420.8,215.8 418.3,217.5 414.2,218.0 410.0,217.5" fill="#fddbc7" stroke="#8c8c8c" stroke-width="0.5" stroke-linejoin="round"/>
<polygon points="405.8,224.2 407.5,221.7 410.0,219.2 414.2,218.3 417.5,218.0 415.8,220.0 411.7,221.7 412.5,225.0 411.3,230.0 408.7,230.3 406.7,226.7" fill="#fddbc7" stroke="#8c8c8c" stroke-width="0.5" stroke-linejoin="round"/>
<polygon points="418.8,218.5 422.6,218.1 423.9,219.8 429.8,218.9 434.9,218.5 438.8,219.2 444.0,218.9 449.2,219.8 454.4,221.1 456.9,224.4 457.6,226.9 456.9,229.5 451.8,230.2 446.6,230.8 441.4,231.9 437.5,233.4 432.4,233.4 427.2,232.1 423.3,231.5 420.7,229.5 419.4,226.9 420.1,223.1 419.4,221.1" fill="#b2182b" stroke="#8c8c8c" stroke-width="0.5" stroke-linejoin="round"/>
<polygon points="446.6,214.0 451.8,215.3 456.9,216.6 460.8,219.2 459.5,221.1 455.6,220.5 451.8,219.8 449.2,217.9" fill="#2166ac" stroke="#8c8c8c" stroke-width="0.5" stroke-linejoin="round"/>
<polygon points="455.8,220.0 460.0,219.0 463.3,220.0 465.0,221.7 467.5,225.0 465.0,225.8 461.7,225.0 459.2,225.8 457.5,224.2 456.7,222.1" fill="url(#hatch)" stroke="#c8c8c8" stroke-width="0.5" stroke-linejoin="round"/>
<polygon points="462.5,207.1 467.5,206.2 471.7,207.1 470.8,209.2 468.3,210.4 467.5,212.5 470.0,215.0 473.3,214.2 475.0,216.7 475.0,219.2 477.5,223.3 480.0,226.7 480.8,230.0 475.8,231.7 471.7,230.0 467.5,226.7 465.0,221.7 463.3,217.5 461.2,214.2 460.4,211.2 460.8,209.2" fill="#ffffff" stroke="#8c8c8c" stroke-width="0.5" stroke-linejoin="round"/>
<polygon points="457.5,225.0 461.7,225.3 467.5,226.7 471.7,230.0 475.8,231.7 480.0,231.3 485.0,229.2 490.0,229.2 494.2,230.0 496.7,233.7 496.7,236.7 495.8,243.3 497.5,249.2 501.7,250.8 500.8,256.7 502.5,260.8 496.7,260.0 491.7,257.5 486.7,255.8 483.3,253.3 480.0,252.5 476.7,251.7 473.3,249.2 468.3,246.7 465.0,242.5 463.3,236.7 460.0,231.7 458.3,228.3" fill="#2166ac" stroke="#8c8c8c" stroke-width="0.5" stroke-linejoin="round"/>
<polygon points="449.2,234.2 453.3,230.8 458.3,229.2 460.0,231.7 463.3,236.7 465.0,242.5 468.3,246.7 469.2,250.8 465.0,251.7 461.7,250.8 456.7,246.7 451.7,243.3 448.3,240.8" fill="#ef8a62" stroke="#8c8c8c" stroke-width="0.5" stroke-linejoin="round"/>
<polygon points="440.0,231.7 446.7,230.8 453.3,230.0 449.2,234.2 448.3,240.8 444.2,241.7 440.8,240.0" fill="url(#hatch)" stroke="#c8c8c8" stroke-width="0.5" stroke-linejoin="round"/>
<polygon points="441.2,244.2 444.8,242.3 447.5,241.3 449.0,243.7 446.7,246.8 443.8,247.8 441.8,251.0 441.2,247.8" fill="#67a9cf" stroke="#8c8c8c" stroke-width="0.5" stroke-linejoin="round"/>
<polygon points="461.7,281.7 465.0,283.3 468.3,280.0 475.0,278.3 481.7,276.7 488.3,273.3 488.3,270.0 485.0,266.7 490.0,261.7 493.3,263.3 496.7,268.3 498.3,273.3 495.0,276.7 490.0,280.0 483.3,285.0 476.7,288.3 470.0,290.0 463.3,290.0 460.0,286.7" fill="url(#hatch)" stroke="#c8c8c8" stroke-width="0.5" stroke-linejoin="round"/>
<polygon points="441.8,251.3 443.8,247.8 446.7,246.8 449.0,244.2 451.7,243.3 456.7,246.7 461.7,250.8 465.0,251.7 469.2,250.8 471.7,253.3 475.0,256.7 478.3,258.3 481.7,263.3 485.0,266.7 488.3,270.0 488.3,273.3 481.7,276.7 475.0,278.3 468.3,280.0 465.0,283.3 461.3,284.5 458.5,284.5 455.8,279.8 454.0,276.2 451.2,271.7 448.5,266.7 445.7,261.5 443.0,256.5 441.2,252.8" fill="#b2182b" stroke="#8c8c8c" stroke-width="0.5" stroke-linejoin="round"/>
<polygon points="479.2,264.2 485.8,261.7 490.0,260.0 488.3,265.0 485.0,266.7" fill="#d1e5f0" stroke="#8c8c8c" stroke-width="0.5" stroke-linejoin="round"/>
<polygon points="496.7,236.7 501.7,234.2 506.7,232.5 511.7,230.8 516.7,229.2 520.0,230.0 516.7,233.3 515.0,237.5 513.3,241.7 510.0,245.0 506.7,248.3 501.7,250.8 497.5,249.2 495.8,243.3" fill="#67a9cf" stroke="#8c8c8c" stroke-width="0.5" stroke-linejoin="round"/>
<polygon points="501.7,250.8 506.7,248.3 510.0,245.0 513.3,241.7 515.0,237.5 516.7,233.3 520.0,231.7 525.0,232.5 528.3,235.0 526.7,238.3 522.5,241.7 520.0,245.0 518.3,250.0 520.0,255.0 521.7,260.0 518.3,261.7 513.3,261.7 508.3,260.0 502.5,260.8 500.8,256.7" fill="#fddbc7" stroke="#8c8c8c" stroke-width="0.5" stroke-linejoin="round"/>
<polygon points="525.0,236.7 530.0,235.8 533.3,237.5 536.7,240.0 540.0,245.0 542.5,249.2 550.0,253.3 556.7,255.8 560.0,256.7 561.0,259.0 562.8,258.6 565.6,259.6 568.3,257.9 572.0,252.4 576.6,251.5 579.3,254.2 577.5,257.0 575.7,258.8 573.8,262.5 572.9,266.2 572.0,268.9 571.1,267.1 569.7,264.3 568.8,261.6 565.6,259.7 562.8,259.0 561.5,259.6 562.8,262.5 563.7,265.2 563.7,268.9 562.8,270.7 560.1,272.6 559.2,274.4 557.3,277.1 553.7,280.8 550.0,283.6 547.5,285.0 546.7,290.0 548.3,288.3 546.7,293.3 545.8,298.3 544.2,303.3 541.7,305.8 538.3,300.0 535.0,293.3 532.5,288.3 530.8,285.0 530.0,280.0 526.7,275.0 523.3,271.7 521.7,268.3 518.3,265.8 516.7,265.0 518.3,261.7 521.7,260.0 520.0,255.0 518.3,250.0 520.0,245.0 522.5,241.7 526.7,238.3" fill="#b2182b" stroke="#8c8c8c" stroke-width="0.5" stroke-linejoin="round"/>
<polygon points="542.5,249.2 550.0,251.7 556.7,254.2 560.8,256.3 560.0,258.3 555.0,258.0 550.0,256.7 545.0,254.2 542.0,251.7" fill="url(#hatch)" stroke="#c8c8c8" stroke-width="0.5" stroke-linejoin="round"/>
<polygon points="550.0,252.9 555.5,253.1 560.1,254.7 560.3,257.0 555.5,257.9 551.8,257.4 550.0,257.0" fill="url(#hatch)" stroke="#c8c8c8" stroke-width="0.5" stroke-linejoin="round"/>
<polygon points="561.9,254.7 568.3,255.6 568.3,257.9 562.8,258.4 561.5,257.0" fill="url(#hatch)" stroke="#c8c8c8" stroke-width="0.5" stroke-linejoin="round"/>
<polygon points="561.0,259.3 562.8,258.8 565.6,259.7 568.8,261.6 569.7,264.3 571.1,267.1 572.0,269.8 572.0,272.6 570.6,271.2 569.2,268.9 567.4,269.8 565.6,269.8 563.7,268.9 563.7,265.2 562.8,262.5" fill="#d1e5f0" stroke="#8c8c8c" stroke-width="0.5" stroke-linejoin="round"/>
<polygon points="577.5,257.0 579.3,254.2 582.1,255.2 583.0,258.8 583.0,263.4 585.7,266.2 586.7,269.8 588.5,272.6 590.3,271.7 593.1,273.5 594.0,276.2 589.4,277.1 586.7,278.1 584.8,282.6 584.8,290.0 581.2,290.0 578.4,284.5 575.7,279.0 572.9,274.4 572.0,271.7 572.0,268.9 572.9,266.2 573.8,262.5 575.7,258.8" fill="url(#hatch)" stroke="#c8c8c8" stroke-width="0.5" stroke-linejoin="round"/>
<polygon points="546.7,302.5 549.2,304.2 550.8,308.3 549.2,311.7 547.5,310.8 546.3,306.7" fill="#67a9cf" stroke="#8c8c8c" stroke-width="0.5" stroke-linejoin="round"/>
<polygon points="577.5,257.0 579.3,254.2 582.1,255.2 583.0,258.8 583.0,263.4 585.7,266.2 586.7,269.8 588.5,272.6 590.3,271.7 593.1,273.5 590.6,272.9 590.0,274.7 588.8,275.1 585.3,277.1 585.3,280.6 586.5,283.5 587.6,287.6 588.8,291.8 589.4,295.3 588.8,298.8 587.6,298.8 586.5,295.3 585.3,290.6 582.9,286.5 581.2,283.5 579.4,281.2 577.1,277.6 574.7,274.1 572.4,270.6 572.0,268.9 572.9,266.2 573.8,262.5 575.7,258.8" fill="url(#hatch)" stroke="#c8c8c8" stroke-width="0.5" stroke-linejoin="round"/>
<polygon points="590.6,272.4 593.5,271.2 597.1,272.9 599.4,276.5 601.8,279.4 604.1,282.4 605.3,287.1 604.1,289.4 603.5,285.9 600.6,282.9 597.1,281.2 592.9,280.0 591.8,276.5 590.0,274.7" fill="url(#hatch)" stroke="#c8c8c8" stroke-width="0.5" stroke-linejoin="round"/>
<polygon points="585.3,277.1 588.8,275.1 591.8,276.5 592.9,280.0 597.1,281.2 600.6,282.9 603.5,285.9 604.1,289.4 601.8,290.8 598.8,291.8 597.6,294.7 595.3,294.1 592.4,292.4 590.9,294.1 591.4,300.0 592.4,303.8 593.8,306.6 596.6,308.9 598.5,310.8 598.2,312.4 596.8,311.8 593.5,309.9 590.7,307.5 589.1,303.8 588.8,298.8 589.4,295.3 588.8,291.8 587.6,287.6 586.5,283.5 585.3,280.6" fill="#67a9cf" stroke="#8c8c8c" stroke-width="0.5" stroke-linejoin="round"/>
<polygon points="597.6,291.8 600.6,290.8 604.1,290.0 607.6,290.6 608.8,294.1 606.5,297.6 603.5,300.0 600.6,299.4 598.2,296.5 597.6,294.1" fill="#d1e5f0" stroke="#8c8c8c" stroke-width="0.5" stroke-linejoin="round"/>
<polygon points="593.5,270.6 598.2,268.8 601.8,268.2 604.1,270.6 602.9,272.9 600.6,274.7 600.0,277.1 602.9,278.8 605.3,282.4 608.8,285.3 611.2,288.2 612.9,291.8 613.5,295.3 611.8,298.2 608.8,300.0 605.3,302.4 604.1,304.7 603.5,300.6 606.5,297.6 608.8,294.1 607.6,290.6 605.3,287.1 604.1,282.4 601.8,279.4 599.4,276.5 597.1,272.9" fill="#ef8a62" stroke="#8c8c8c" stroke-width="0.5" stroke-linejoin="round"/>
<polygon points="609.4,276.5 611.8,275.3 614.1,275.9 613.5,278.8 611.2,280.0 609.4,278.8" fill="#2166ac" stroke="#8c8c8c" stroke-width="0.5" stroke-linejoin="round"/>
<polygon points="582.5,314.1 585.4,314.1 589.1,316.9 592.9,320.2 596.6,323.5 600.4,327.3 603.2,330.1 607.0,334.8 607.5,337.6 607.0,341.4 606.1,343.3 603.2,341.4 599.5,337.6 596.6,334.8 594.8,332.0 591.9,327.3 589.1,322.6 585.4,317.9" fill="#d1e5f0" stroke="#8c8c8c" stroke-width="0.5" stroke-linejoin="round"/>
<polygon points="606.1,344.2 609.8,343.8 614.5,345.2 619.2,345.2 623.9,347.1 627.7,348.9 628.2,350.4 623.9,350.4 619.2,348.9 614.5,347.5 609.8,346.6 606.5,346.1" fill="#d1e5f0" stroke="#8c8c8c" stroke-width="0.5" stroke-linejoin="round"/>
<polygon points="614.5,323.1 616.4,322.6 618.3,324.5 622.1,323.5 625.8,321.6 628.6,319.3 631.5,316.9 634.3,316.5 635.2,318.8 635.2,322.6 636.6,325.4 634.3,326.4 632.4,330.1 631.5,333.9 629.6,337.6 627.7,338.6 624.9,336.7 622.1,336.2 618.3,334.8 616.4,332.0 615.5,328.2" fill="#d1e5f0" stroke="#8c8c8c" stroke-width="0.5" stroke-linejoin="round"/>
<polygon points="616.4,322.6 620.2,321.2 623.9,318.4 627.7,315.1 631.5,311.3 634.3,310.4 637.1,314.1 635.2,316.5 631.5,316.9 628.6,319.3 625.8,321.6 622.1,323.5 618.3,324.5" fill="url(#hatch)" stroke="#c8c8c8" stroke-width="0.5" stroke-linejoin="round"/>
<polygon points="592.9,310.4 596.6,312.2 599.5,315.1 601.4,318.8 603.2,323.5 602.3,325.4 600.4,324.5 597.6,320.7 594.8,316.9 593.4,313.2" fill="url(#hatch)" stroke="#c8c8c8" stroke-width="0.5" stroke-linejoin="round"/>
<polygon points="639.9,324.5 642.8,324.3 646.5,324.0 651.2,324.0 650.3,325.9 646.5,326.8 643.7,328.2 642.8,331.1 644.6,331.1 647.5,330.1 646.5,332.9 644.6,333.9 646.5,337.6 646.5,341.4 645.1,341.4 642.8,337.6 640.9,335.8 639.9,337.6 638.5,340.5 637.6,339.5 637.1,335.8 638.1,331.1 639.0,327.3" fill="#d1e5f0" stroke="#8c8c8c" stroke-width="0.5" stroke-linejoin="round"/>
<polygon points="637.1,280.0 640.6,279.4 641.8,282.9 640.6,285.3 639.4,288.8 640.6,291.2 642.9,291.8 645.3,293.5 644.1,295.3 641.8,294.1 639.4,292.4 637.6,289.4 637.1,285.3" fill="#67a9cf" stroke="#8c8c8c" stroke-width="0.5" stroke-linejoin="round"/>
<polygon points="641.8,295.3 645.3,296.5 647.6,298.8 651.2,299.4 652.4,301.2 650.0,302.4 646.5,301.2 644.1,300.0 642.4,297.6" fill="#67a9cf" stroke="#8c8c8c" stroke-width="0.5" stroke-linejoin="round"/>
<polygon points="644.1,303.5 647.6,302.4 651.2,302.9 653.5,305.9 654.1,309.4 652.4,312.9 650.6,311.8 647.6,309.4 645.3,308.2 643.5,307.1" fill="#67a9cf" stroke="#8c8c8c" stroke-width="0.5" stroke-linejoin="round"/>
<polygon points="632.4,305.9 635.3,301.8 637.6,298.8 638.2,300.0 635.9,303.5 633.5,305.9" fill="#67a9cf" stroke="#8c8c8c" stroke-width="0.5" stroke-linejoin="round"/>
<polygon points="665.0,330.0 670.0,329.2 673.3,332.5 678.3,332.5 683.3,333.0 688.3,335.0 687.5,351.7 684.2,350.0 680.0,348.3 676.7,343.3 673.3,340.0 670.0,336.7 667.5,334.2 664.2,332.5" fill="#d1e5f0" stroke="#8c8c8c" stroke-width="0.5" stroke-linejoin="round"/>
<polygon points="688.3,335.0 695.0,337.5 700.0,341.7 703.3,346.7 708.3,355.0 703.3,354.2 698.3,350.8 693.3,351.7 687.5,351.7" fill="url(#hatch)" stroke="#c8c8c8" stroke-width="0.5" stroke-linejoin="round"/>
<polygon points="631.7,349.2 636.7,349.7 635.8,351.3 632.0,350.8" fill="#d1e5f0" stroke="#8c8c8c" stroke-width="0.5" stroke-linejoin="round"/>
<polygon points="638.3,350.0 645.0,349.7 644.2,351.7 639.2,351.7" fill="#d1e5f0" stroke="#8c8c8c" stroke-width="0.5" stroke-linejoin="round"/>
<polygon points="646.7,352.5 653.3,350.0 655.0,350.8 648.3,354.2" fill="#d1e5f0" stroke="#8c8c8c" stroke-width="0.5" stroke-linejoin="round"/>
<polygon points="656.7,323.3 659.2,323.0 659.7,328.3 658.0,329.2" fill="#d1e5f0" stroke="#8c8c8c" stroke-width="0.5" stroke-linejoin="round"/>
<polygon points="653.3,336.7 658.3,335.8 663.3,336.7 661.7,338.3 655.0,338.0" fill="#d1e5f0" stroke="#8c8c8c" stroke-width="0.5" stroke-linejoin="round"/>
<polygon points="705.0,340.8 710.0,340.0 713.3,336.7 715.8,339.2 710.8,343.3 705.8,343.3" fill="url(#hatch)" stroke="#c8c8c8" stroke-width="0.5" stroke-linejoin="round"/>
<polygon points="718.3,341.7 723.3,345.0 730.0,349.2 735.0,355.8 733.3,356.7 728.3,351.7 720.0,345.0" fill="url(#hatch)" stroke="#c8c8c8" stroke-width="0.5" stroke-linejoin="round"/>
<polygon points="619.8,385.2 626.4,382.4 633.9,379.5 639.5,375.8 643.3,372.0 648.9,366.4 654.6,364.5 660.2,362.6 664.9,357.9 667.8,357.3 671.5,359.8 676.2,360.7 674.4,364.5 673.4,368.2 679.1,372.0 682.8,373.9 685.6,371.1 687.5,364.5 688.5,358.8 690.0,356.6 692.2,360.7 693.2,366.4 695.1,373.9 697.9,379.5 701.6,385.2 704.5,389.9 705.4,394.6 704.5,400.2 701.6,405.9 697.9,411.5 692.2,417.2 688.5,422.8 682.8,426.6 677.2,428.5 671.5,429.4 666.8,427.5 664.9,422.8 664.0,419.1 662.1,415.3 660.2,419.1 658.4,414.4 654.6,411.5 650.8,410.6 645.2,411.5 637.6,413.4 632.0,415.3 626.4,416.2 620.7,418.1 616.0,419.1 614.1,416.2 616.9,412.5 617.9,405.9 616.9,398.4 617.9,392.7 618.8,388.0" fill="#d1e5f0" stroke="#8c8c8c" stroke-width="0.5" stroke-linejoin="round"/>
<polygon points="668.7,436.0 675.3,434.1 676.8,435.1 674.4,438.8 670.6,441.6 667.8,440.7" fill="#d1e5f0" stroke="#8c8c8c" stroke-width="0.5" stroke-linejoin="round"/>
<polygon points="739.3,418.1 741.2,420.9 742.1,423.8 745.9,426.6 743.1,429.4 739.3,430.4 735.5,434.1 732.7,435.1 733.6,432.2 736.5,428.5 739.3,424.7" fill="url(#hatch)" stroke="#c8c8c8" stroke-width="0.5" stroke-linejoin="round"/>
<polygon points="729.9,434.1 731.8,436.0 726.1,439.8 720.5,442.6 712.9,446.4 707.3,449.2 705.4,448.2 711.1,444.5 716.7,440.7 724.2,436.9" fill="url(#hatch)" stroke="#c8c8c8" stroke-width="0.5" stroke-linejoin="round"/>
<polygon points="734.6,380.5 739.3,385.2 738.4,386.1 734.0,381.8" fill="url(#hatch)" stroke="#c8c8c8" stroke-width="0.5" stroke-linejoin="round"/>
<polygon points="202.4,374.2 203.6,378.8 204.5,391.0 205.4,405.0 205.4,415.5 206.3,426.0 208.0,436.5 208.9,443.5 209.8,452.3 212.4,461.0 217.6,467.1 223.8,469.8 230.8,471.5 236.9,470.6 232.5,468.0 228.1,464.5 227.3,461.0 226.4,457.5 227.3,452.3 225.9,447.0 227.3,441.8 229.0,437.4 226.9,435.6 229.9,431.3 232.5,429.5 237.8,427.8 240.4,423.4 239.5,419.0 236.0,413.8 236.0,407.6 237.8,405.0 240.4,402.4 242.1,398.0 240.4,392.8 236.0,387.5 230.8,381.4 226.4,379.6 222.0,382.3 216.8,384.0 211.5,382.3 208.0,377.0 206.3,373.5 204.5,371.8" fill="#d1e5f0" stroke="#8c8c8c" stroke-width="0.5" stroke-linejoin="round"/>
<polyline points="205.9,371.8 208.9,387.5 208.0,405.0 209.8,422.5 211.5,440.0 215.0,454.0 220.3,462.8 226.4,464.5" fill="none" stroke="#8c8c8c" stroke-width="0.5" stroke-linejoin="round"/>
<polygon points="222.0,382.3 226.4,379.6 230.8,381.4 236.0,387.5 240.4,392.8 242.1,398.0 237.8,398.9 233.4,396.3 228.1,391.0 223.8,387.5" fill="url(#hatch)" stroke="#c8c8c8" stroke-width="0.5" stroke-linejoin="round"/>
<polygon points="236.0,407.6 240.4,408.5 245.6,412.0 246.5,415.5 243.0,418.1 238.6,417.3 236.0,413.8" fill="url(#hatch)" stroke="#c8c8c8" stroke-width="0.5" stroke-linejoin="round"/>
<polygon points="204.2,355.0 210.0,354.2 215.0,355.8 218.3,360.0 223.3,363.3 226.7,366.7 228.3,371.7 231.7,376.7 226.7,380.0 221.7,380.8 216.7,383.3 211.7,386.7 208.3,383.3 205.8,376.7 205.0,368.3 204.7,361.7" fill="#d1e5f0" stroke="#8c8c8c" stroke-width="0.5" stroke-linejoin="round"/>
<polygon points="176.7,339.2 178.3,339.2 182.5,338.3 187.5,333.3 190.0,330.0 195.0,331.7 199.2,334.2 200.8,337.5 195.0,341.7 194.2,346.7 195.8,350.0 200.0,352.5 204.2,355.0 205.0,361.7 204.2,368.3 205.0,375.0 202.5,374.2 198.3,370.0 193.3,365.0 188.3,358.3 185.0,353.3 181.7,346.7 178.3,342.5 175.8,340.0" fill="#fddbc7" stroke="#8c8c8c" stroke-width="0.5" stroke-linejoin="round"/>
<polygon points="201.8,332.3 201.8,327.7 202.8,323.8 205.2,323.3 208.3,323.0 209.8,325.8 212.7,324.8 215.5,322.0 214.5,318.2 216.3,317.3 219.2,316.3 222.5,315.0 223.0,315.3 224.8,319.2 225.8,323.0 227.7,322.0 231.5,322.5 235.2,322.0 240.0,321.0 242.8,320.2 243.7,317.3 245.7,321.0 247.5,325.8 250.8,329.2 256.7,332.5 263.3,335.0 270.0,336.7 276.7,340.0 281.7,343.3 283.0,347.5 281.7,351.7 278.3,355.0 275.0,358.3 275.0,365.0 273.3,371.7 272.5,378.3 270.0,383.3 266.7,388.3 269.3,386.6 260.5,389.3 255.3,394.5 254.4,401.5 250.9,406.8 246.5,412.9 243.0,409.4 239.5,406.8 237.8,405.0 240.4,402.4 242.1,398.0 240.4,392.8 236.0,387.5 230.8,381.4 231.7,376.7 228.3,371.7 226.7,366.7 223.3,363.3 218.3,360.0 215.0,355.8 210.0,354.2 205.0,355.0 200.0,352.5 195.8,350.0 194.2,346.7 195.0,341.7 200.0,337.5 200.8,333.3" fill="#67a9cf" stroke="#8c8c8c" stroke-width="0.5" stroke-linejoin="round"/>
<polygon points="181.6,322.9 183.5,317.3 184.4,313.5 185.4,308.8 187.2,304.1 190.1,299.4 193.8,298.0 197.6,296.6 199.0,295.6 199.7,296.8 197.6,298.5 195.7,300.8 194.8,303.6 196.2,306.9 198.1,309.3 201.4,310.2 205.1,311.6 207.0,313.1 206.5,317.3 207.5,321.1 208.4,322.9 205.1,323.4 202.8,323.9 201.8,327.6 201.8,332.4 200.9,336.1 197.6,334.2 193.8,332.4 189.1,329.5 185.4,326.7 182.5,324.8" fill="#d1e5f0" stroke="#8c8c8c" stroke-width="0.5" stroke-linejoin="round"/>
<polygon points="199.7,296.8 202.3,296.6 206.1,298.9 209.8,300.8 213.6,300.4 217.4,299.9 221.1,300.4 222.5,302.2 223.9,305.5 225.8,307.4 223.9,310.2 222.5,312.6 222.5,314.9 219.2,316.4 216.4,317.3 214.5,318.2 215.5,322.0 212.6,324.8 209.8,325.8 208.4,322.9 207.5,321.1 206.5,317.3 207.0,313.1 205.1,311.6 201.4,310.2 198.1,309.3 196.2,306.9 194.8,303.6 195.7,300.8 197.6,298.5" fill="#d1e5f0" stroke="#8c8c8c" stroke-width="0.5" stroke-linejoin="round"/>
<polygon points="197.4,299.4 199.0,298.9 199.7,301.3 199.3,303.9 197.8,304.1 197.2,301.8" fill="#ffffff" stroke="#8c8c8c" stroke-width="0.5" stroke-linejoin="round"/>
<polygon points="223.9,306.5 226.8,307.9 229.6,311.6 230.5,314.5 229.6,318.2 227.7,322.0 225.8,322.9 224.9,319.2 223.0,315.4 222.5,312.6 223.9,310.2 225.8,307.4" fill="url(#hatch)" stroke="#c8c8c8" stroke-width="0.5" stroke-linejoin="round"/>
<polygon points="229.6,312.6 233.4,312.1 237.1,312.6 238.1,316.4 237.1,320.1 235.2,322.0 231.5,322.5 230.1,320.1 230.5,316.4" fill="#d1e5f0" stroke="#8c8c8c" stroke-width="0.5" stroke-linejoin="round"/>
<polygon points="238.1,313.5 240.9,314.0 243.7,317.3 242.8,320.1 239.9,321.1 238.1,320.1 237.6,316.4" fill="url(#hatch)" stroke="#c8c8c8" stroke-width="0.5" stroke-linejoin="round"/>
<polygon points="176.9,327.6 181.6,322.9 182.5,324.8 185.4,326.7 189.1,329.5 187.2,333.3 183.5,337.1 179.7,338.9 176.9,337.1 177.8,332.4" fill="url(#hatch)" stroke="#c8c8c8" stroke-width="0.5" stroke-linejoin="round"/>
<polyline points="324.9,272.5 334.1,272.5 334.1,256.9 343.3,256.9" fill="none" stroke="#c6c6c6" stroke-width="0.7" stroke-linejoin="round"/>
<polyline points="343.3,256.9 349.6,262.6 350.4,286.6 336.9,287.3 334.1,284.9 328.5,283.8" fill="none" stroke="#c6c6c6" stroke-width="0.7" stroke-linejoin="round"/>
<polyline points="372.2,278.1 372.2,282.4 368.7,287.3 366.6,290.1 360.9,290.8 353.9,292.2" fill="none" stroke="#c6c6c6" stroke-width="0.7" stroke-linejoin="round"/>
<polyline points="389.2,266.1 396.9,268.2 417.4,275.3" fill="none" stroke="#c6c6c6" stroke-width="0.7" stroke-linejoin="round"/>
<polyline points="396.9,268.2 397.7,276.7 396.9,288.0 393.4,293.6" fill="none" stroke="#c6c6c6" stroke-width="0.7" stroke-linejoin="round"/>
<polyline points="417.4,245.6 418.8,271.1" fill="none" stroke="#c6c6c6" stroke-width="0.7" stroke-linejoin="round"/>
<polyline points="417.4,275.3 416.0,286.6 413.9,299.3 418.8,304.9 421.7,310.6" fill="none" stroke="#c6c6c6" stroke-width="0.7" stroke-linejoin="round"/>
<polyline points="328.5,283.8 334.1,286.6 338.4,293.6 345.4,296.5 352.5,292.2" fill="none" stroke="#c6c6c6" stroke-width="0.7" stroke-linejoin="round"/>
<polyline points="345.4,296.5 346.8,304.9 355.3,306.4 356.7,299.3" fill="none" stroke="#c6c6c6" stroke-width="0.7" stroke-linejoin="round"/>
<polyline points="416.0,295.3 420.7,302.0 427.3,302.7 432.7,301.3 438.0,298.0 439.3,296.7" fill="none" stroke="#c6c6c6" stroke-width="0.7" stroke-linejoin="round"/>
<polyline points="414.7,295.3 416.7,302.7 422.0,310.0 426.0,314.0 431.3,319.3" fill="none" stroke="#c6c6c6" stroke-width="0.7" stroke-linejoin="round"/>
<polyline points="439.3,298.0 444.7,292.7 446.7,286.0 450.0,282.0" fill="none" stroke="#c6c6c6" stroke-width="0.7" stroke-linejoin="round"/>
<polyline points="455.3,303.3 463.3,300.7 471.3,302.0" fill="none" stroke="#c6c6c6" stroke-width="0.7" stroke-linejoin="round"/>
<polyline points="444.7,292.7 452.7,296.7 455.3,303.3 452.7,310.0 448.7,315.3" fill="none" stroke="#c6c6c6" stroke-width="0.7" stroke-linejoin="round"/>
<polyline points="398.7,300.7 402.0,306.0 408.7,307.3 415.3,302.0" fill="none" stroke="#c6c6c6" stroke-width="0.7" stroke-linejoin="round"/>
<polyline points="399.3,310.0 406.0,314.0 414.0,314.0 422.0,310.0" fill="none" stroke="#c6c6c6" stroke-width="0.7" stroke-linejoin="round"/>
<polyline points="387.3,323.3 392.7,326.0 395.3,332.7 391.3,336.7" fill="none" stroke="#c6c6c6" stroke-width="0.7" stroke-linejoin="round"/>
<polyline points="396.7,322.0 404.7,320.7 414.0,315.3" fill="none" stroke="#c6c6c6" stroke-width="0.7" stroke-linejoin="round"/>
<polyline points="390.0,339.3 403.3,342.0 414.0,344.7 423.3,344.7 430.0,342.0 431.3,332.7" fill="none" stroke="#c6c6c6" stroke-width="0.7" stroke-linejoin="round"/>
<polyline points="397.5,314.6 408.0,315.2 415.0,316.3 424.3,314.6 431.3,317.5" fill="none" stroke="#c6c6c6" stroke-width="0.7" stroke-linejoin="round"/>
<polyline points="404.5,315.2 403.3,323.3 402.2,330.3 397.5,337.3 392.8,342.0 390.5,344.3" fill="none" stroke="#c6c6c6" stroke-width="0.7" stroke-linejoin="round"/>
<polyline points="384.7,322.7 391.7,323.3 395.2,324.5 395.2,330.3 391.7,333.8 388.2,335.0 385.8,332.7" fill="none" stroke="#c6c6c6" stroke-width="0.7" stroke-linejoin="round"/>
<polyline points="392.8,343.1 401.0,343.1 402.2,346.6 409.2,347.8 413.8,351.3 415.0,356.0 420.8,357.1 424.3,359.5 429.0,360.6 438.3,354.8" fill="none" stroke="#c6c6c6" stroke-width="0.7" stroke-linejoin="round"/>
<polyline points="415.0,356.0 418.5,360.6 415.0,365.3 413.8,370.0" fill="none" stroke="#c6c6c6" stroke-width="0.7" stroke-linejoin="round"/>
<polyline points="431.3,323.3 431.3,330.3 430.1,335.0 431.3,340.8 431.3,346.6 434.8,352.5 438.3,354.8" fill="none" stroke="#c6c6c6" stroke-width="0.7" stroke-linejoin="round"/>
<polyline points="415.0,300.0 417.3,303.5 422.0,307.0 424.3,311.7 429.0,315.2 431.3,317.5" fill="none" stroke="#c6c6c6" stroke-width="0.7" stroke-linejoin="round"/>
<polygon points="743.3,366.0 744.7,366.7 745.3,370.7 744.3,371.3" fill="url(#hatch)" stroke="#c8c8c8" stroke-width="0.5" stroke-linejoin="round"/>
<polygon points="766.0,373.3 768.7,372.0 769.3,374.7 767.3,375.7" fill="url(#hatch)" stroke="#c8c8c8" stroke-width="0.5" stroke-linejoin="round"/>
<polygon points="10.0,273.3 12.0,276.0 11.0,278.7 9.0,276.7" fill="#67a9cf" stroke="#8c8c8c" stroke-width="0.5" stroke-linejoin="round"/>
<polygon points="3.3,270.0 5.3,270.7 4.7,272.0" fill="#67a9cf" stroke="#8c8c8c" stroke-width="0.5" stroke-linejoin="round"/>
<polygon points="6.7,271.7 8.3,272.3 7.7,273.7" fill="#67a9cf" stroke="#8c8c8c" stroke-width="0.5" stroke-linejoin="round"/>
</g>
<g id="legend">
<rect x="216" y="517" width="47" height="11.2" fill="url(#hatch)" stroke="#c8c8c8" stroke-width="0.8"/>
<line x1="239.5" y1="514" x2="239.5" y2="517" stroke="#999" stroke-width="0.8"/>
<path d="M288.5,517.2 L341.3,517.2 L341.3,528.3 L288.5,528.3 L282.8,522.75 Z" fill="#b2182b"/>
<rect x="341.3" y="517.2" width="58.7" height="11.1" fill="#ef8a62"/>
<rect x="400" y="517.2" width="58.6" height="11.1" fill="#fddbc7"/>
<rect x="458.6" y="517.2" width="58.5" height="11.1" fill="#d1e5f0"/>
<rect x="517.1" y="517.2" width="58.4" height="11.1" fill="#67a9cf"/>
<path d="M575.5,517.2 L629.1,517.2 L634.3,522.75 L629.1,528.3 L575.5,528.3 Z" fill="#2166ac"/>
<g stroke="#8c8c8c" stroke-width="0.8">
<line x1="341.3" y1="514" x2="341.3" y2="528.3"/>
<line x1="400" y1="514" x2="400" y2="528.3"/>
<line x1="458.6" y1="514" x2="458.6" y2="528.3"/>
<line x1="517.1" y1="514" x2="517.1" y2="528.3"/>
<line x1="575.5" y1="514" x2="575.5" y2="528.3"/>
</g>
<g font-family="Liberation Sans, Arial, sans-serif" font-size="13" fill="#5b5b5b" text-anchor="middle">
<text x="239.5" y="510.2">No data</text>
<text x="341.3" y="510.2">-0.4</text>
<text x="400" y="510.2">-0.2</text>
<text x="458.6" y="510.2">0</text>
<text x="517.1" y="510.2">0.2</text>
<text x="575.5" y="510.2">0.4</text>
</g>
</g>
</svg>
<div class="t" id="title">Country-level estimates of positive reciprocity</div>
<div class="t sub" id="s1">Positive reciprocity defined as willingness to return a favor. Estimates measured in standard deviations from the</div>
<div class="t sub" id="s2">global distribution, where 0 is the average. Positive values reflect more positive reciprocity than the world</div>
<div class="t sub" id="s3">average. Values shown correspond to country-level averages.</div>
<div id="logo"><div class="txt">Our World<br>in Data</div><div class="bar"></div></div>
<div class="t ft" id="src"><b>Data source:</b> Falk, Becker, Dohmen, Enke, Huffman, and Sunde (2018) - Global Preferences Survey</div>
<div class="t ft" id="lic">OurWorldinData.org/trust | CC BY</div>
<div class="t ft" id="note"><b>Note:</b> Positive reciprocity is measured using survey questions asking about willingness to return favors. See source for more details.</div>
</body></html>
